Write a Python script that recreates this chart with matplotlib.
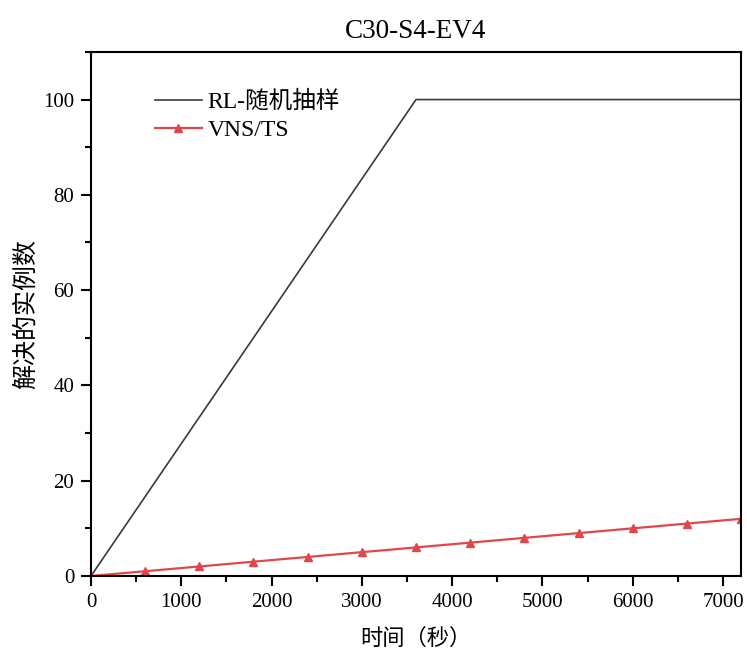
import matplotlib
matplotlib.use("Agg")
import matplotlib.pyplot as plt
from matplotlib.ticker import MultipleLocator

plt.rcParams["font.family"] = ["Liberation Serif", "Noto Sans CJK SC"]
plt.rcParams["axes.unicode_minus"] = False

# data
rl_time = [0, 3600, 7200]
rl_solved = [0, 100, 100]
vns_time = [0, 600, 1200, 1800, 2400, 3000, 3600, 4200, 4800, 5400, 6000, 6600, 7200]
vns_solved = [0, 1, 2, 3, 4, 5, 6, 7, 8, 9, 10, 11, 12]

fig = plt.figure(figsize=(7.47, 6.49), dpi=100)
ax = fig.add_axes([0.1218, 0.1125, 0.8702, 0.8075])

ax.plot(rl_time, rl_solved, color="#3a3a3a", lw=1.2, label="RL-随机抽样")
ax.plot(vns_time, vns_solved, color="#e0474c", lw=1.6, marker="^", ms=6,
        label="VNS/TS")

ax.set_xlim(0, 7200)
ax.set_ylim(0, 110)
ax.xaxis.set_major_locator(MultipleLocator(1000))
ax.xaxis.set_minor_locator(MultipleLocator(500))
ax.yaxis.set_major_locator(MultipleLocator(20))
ax.yaxis.set_minor_locator(MultipleLocator(10))
ax.tick_params(which="major", direction="out", length=7, width=1.5,
               labelsize=15, pad=5)
ax.tick_params(which="minor", direction="out", length=4, width=1.5)
for s in ax.spines.values():
    s.set_linewidth(1.5)

ax.set_xlabel("时间（秒）", fontsize=16, labelpad=12)
ax.set_ylabel("解决的实例数", fontsize=18, labelpad=4)
ax.set_title("C30-S4-EV4", fontsize=19.5, pad=10)
ax.legend(loc="upper left", bbox_to_anchor=(0.098, 0.925), frameon=False,
          borderaxespad=0, borderpad=0, fontsize=17, handlelength=2.0,
          labelspacing=0.25, handletextpad=0.25)

fig.savefig("out.png", dpi=100)
